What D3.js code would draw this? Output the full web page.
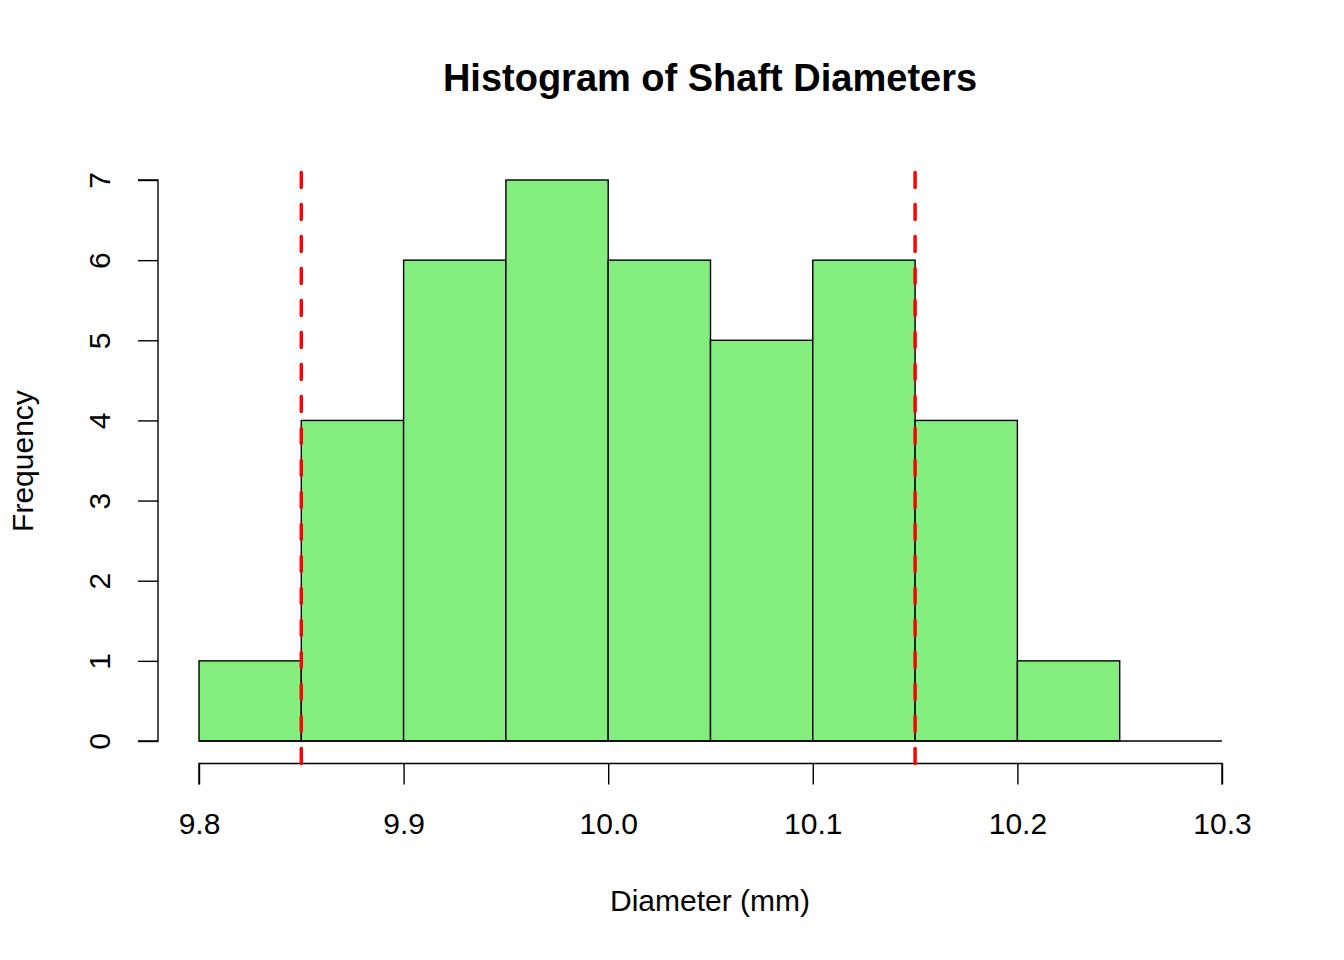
<!DOCTYPE html>
<html>
<head>
<meta charset="utf-8">
<script src="https://cdn.jsdelivr.net/npm/d3@7"></script>
<style>
  body { margin: 0; background: #fff; }
  text { font-family: "Liberation Sans", Arial, sans-serif; }
</style>
</head>
<body>
<div id="chart"></div>
<script>
// histogram bins (mm) and counts
var binStarts = [9.80, 9.85, 9.90, 9.95, 10.00, 10.05, 10.10, 10.15, 10.20]
var binWidth = 0.05
var counts = [1, 4, 6, 7, 6, 5, 6, 4, 1]
var specLimits = [9.85, 10.15]
var xTicks = [9.8, 9.9, 10.0, 10.1, 10.2, 10.3]
var yTicks = [0, 1, 2, 3, 4, 5, 6, 7]

var width = 1344, height = 960

var x = d3.scaleLinear().domain([9.8, 10.3]).range([199, 1222])
var y = d3.scaleLinear().domain([0, 7]).range([741, 180])

// plot region (R style 4% extension)
var plotBottom = y(-0.28), plotTop = y(7.28)

var svg = d3.select("#chart").append("svg")
    .attr("width", width)
    .attr("height", height)

// bars
svg.append("g").selectAll("rect")
    .data(counts)
    .enter()
    .append("rect")
    .attr("x", function(d, i) { return x(binStarts[i]); })
    .attr("y", function(d) { return y(d); })
    .attr("width", function(d, i) { return x(binStarts[i] + binWidth) - x(binStarts[i]); })
    .attr("height", function(d) { return y(0) - y(d); })
    .attr("fill", "#83ed7e")
    .attr("stroke", "#000")
    .attr("stroke-width", 1.4)

// baseline across the whole x range
svg.append("line")
    .attr("x1", x(9.8)).attr("x2", x(10.3))
    .attr("y1", y(0)).attr("y2", y(0))
    .attr("stroke", "#000")
    .attr("stroke-width", 1.4)

// x axis
var xAxis = svg.append("g")
    .attr("transform", "translate(0," + plotBottom + ")")
    .call(d3.axisBottom(x).tickValues(xTicks).tickSize(21).tickPadding(0)
      .tickFormat(d3.format(".1f")))
xAxis.select(".domain").attr("d", "M" + x(9.8) + ",21V0H" + x(10.3) + "V21")
    .attr("stroke-width", 1.4)
xAxis.selectAll(".tick line").attr("stroke-width", 1.4)
xAxis.selectAll(".tick text")
    .attr("font-size", 30).attr("fill", "#000")
    .attr("font-family", "Liberation Sans, Arial, sans-serif")
    .attr("dy", null)
    .attr("y", 834 - plotBottom)

// y axis
var yAxis = svg.append("g")
    .attr("transform", "translate(158,0)")
    .call(d3.axisLeft(y).tickValues(yTicks).tickSize(20).tickPadding(0)
      .tickFormat(d3.format("d")))
yAxis.select(".domain").attr("d", "M-20," + y(0) + "H0V" + y(7) + "H-20")
    .attr("stroke-width", 1.4)
yAxis.selectAll(".tick line").attr("stroke-width", 1.4)
yAxis.selectAll(".tick text")
    .attr("font-size", 30).attr("fill", "#000")
    .attr("font-family", "Liberation Sans, Arial, sans-serif")
    .attr("x", null).attr("dy", null).attr("y", null)
    .attr("text-anchor", "middle")
    .attr("transform", "translate(-48,0) rotate(-90)")

// spec limit lines
svg.append("g").selectAll("line")
    .data(specLimits)
    .enter()
    .append("line")
    .attr("x1", function(d) { return x(d); })
    .attr("x2", function(d) { return x(d); })
    .attr("y1", plotBottom)
    .attr("y2", plotTop)
    .attr("stroke", "#ff0000")
    .attr("stroke-width", 3.5)
    .attr("stroke-linecap", "round")
    .attr("stroke-dasharray", "15,17")

// title and labels
svg.append("text")
    .attr("x", 710).attr("y", 91)
    .attr("text-anchor", "middle")
    .attr("font-size", 38).attr("font-weight", "bold")
    .text("Histogram of Shaft Diameters")

svg.append("text")
    .attr("x", 710).attr("y", 911)
    .attr("text-anchor", "middle")
    .attr("font-size", 30)
    .text("Diameter (mm)")

svg.append("text")
    .attr("transform", "translate(33,461) rotate(-90)")
    .attr("text-anchor", "middle")
    .attr("font-size", 30)
    .text("Frequency")
</script>
</body>
</html>
